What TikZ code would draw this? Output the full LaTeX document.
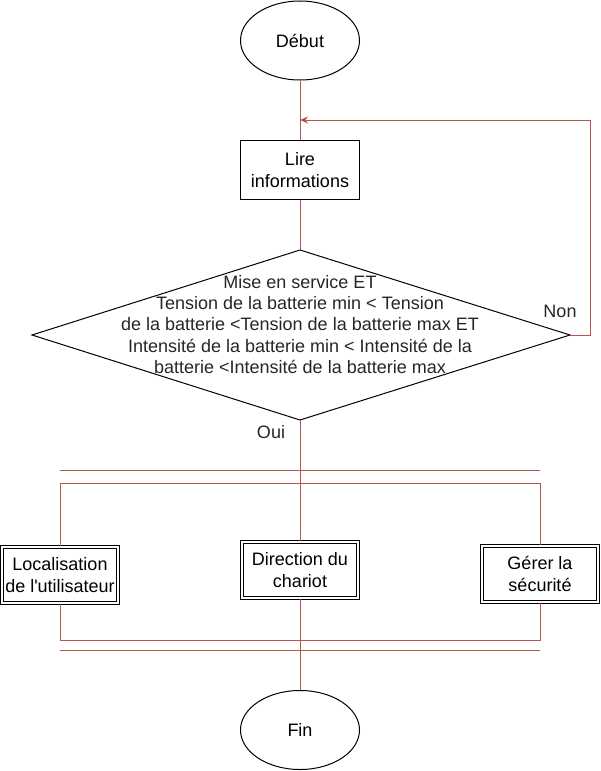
\documentclass[tikz,border=0pt]{standalone}
\usepackage{fontspec}
\setmainfont{Liberation Sans}[Ligatures=TeXOff]
\usetikzlibrary{shapes.geometric,arrows.meta}
\definecolor{lnred}{HTML}{B85450}
\tikzset{
  x=1pt, y=-1pt,
  every node/.style={font=\fontsize{18}{21.25}\selectfont},
  term/.style={draw=black, line width=1pt, ellipse, minimum width=119pt, minimum height=79pt, inner sep=0pt, fill=white},
  procbox/.style={draw=black, line width=1pt, rectangle, minimum width=119pt, minimum height=59pt, inner sep=0pt, align=center, fill=white},
  subbox/.style={draw=black, line width=1pt, double=white, double distance=1.8pt, rectangle, minimum width=116.2pt, minimum height=56.2pt, inner sep=0pt, align=center},
  link/.style={draw=lnred, line width=1pt},
  arr/.style={link, -{Stealth[length=8pt,width=7pt]}},
  lbl/.style={inner sep=0pt, text=black!85}
}
\begin{document}
\begin{tikzpicture}
\useasboundingbox (0,0) rectangle (601,771);
% nodes
\node[term] (debut) at (300,40.5) {Début};
\node[procbox] (lire) at (300,170) {Lire\\informations};
\coordinate (dT) at (300,250);
\coordinate (dL) at (32,335);
\coordinate (dR) at (570,335);
\coordinate (dB) at (300,420);
\draw[black, line width=1pt] (dT) -- (dR) -- (dB) -- (dL) -- cycle;
\node[lbl, align=center] (cond) at (300,324.5) {Mise en service ET\\Tension de la batterie min < Tension\\de la batterie <Tension de la batterie max ET\\Intensité de la batterie min < Intensité de la\\batterie <Intensité de la batterie max};
\node[lbl] (non) at (560,311) {Non};
\node[lbl] (oui) at (271,432) {Oui};
\coordinate (lp) at (300,120);
\coordinate (rtop) at (300,483);
\coordinate (rbot) at (300,640);
\coordinate (b1l) at (60,470);
\coordinate (b1r) at (540,470);
\coordinate (b2l) at (60,650);
\coordinate (b2r) at (540,650);
\node[subbox] (loc) at (60,575) {Localisation\\de l'utilisateur};
\node[subbox] (dir) at (300,570) {Direction du\\chariot};
\node[subbox] (ger) at (540,574) {Gérer la\\sécurité};
\node[term] (fin) at (300,730) {Fin};
% connectors
\draw[link] (debut.south) -- (lire.north);
\draw[link] (lire.south) -- (dT);
\draw[arr] (dR) -- ++(20,0) |- (lp);
\draw[link] (dB) -- (dir.north);
\draw[link] (dir.south) -- (fin.north);
\draw[link] (b1l) -- (b1r);
\draw[link] (b2l) -- (b2r);
\draw[link] (loc.north) -- (loc.north |- rtop) -- (ger.north |- rtop) -- (ger.north);
\draw[link] (loc.south) -- (loc.south |- rbot) -- (ger.south |- rbot) -- (ger.south);
\end{tikzpicture}
\end{document}
